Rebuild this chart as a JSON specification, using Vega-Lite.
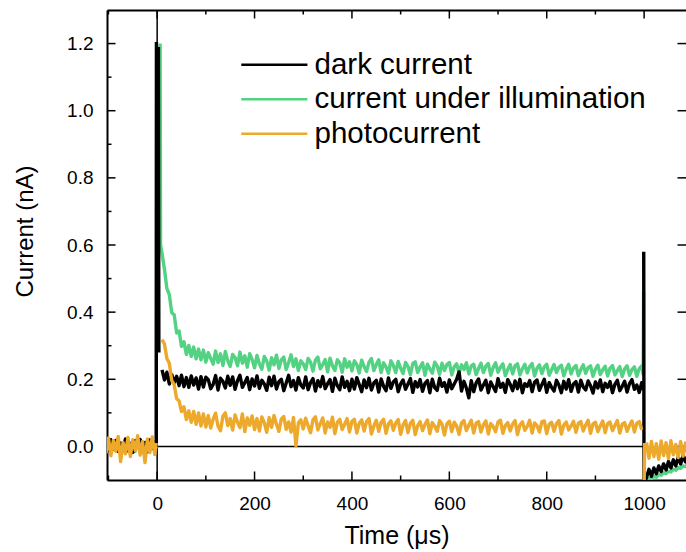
{
  "$schema": "https://vega.github.io/schema/vega-lite/v6.json",
  "width": 579,
  "height": 470,
  "autosize": {"type": "none"},
  "padding": {"left": 107, "top": 10, "right": 0, "bottom": 72},
  "config": {
    "view": {"stroke": null},
    "font": "Liberation Sans",
    "axis": {"grid": false, "domainColor": "black", "domainWidth": 2, "labelColor": "black", "titleColor": "black", "labelOverlap": false, "titleFontWeight": "normal"}
  },
  "datasets": {
    "xticks": [
      {"v": -100, "kind": "minor"}, {"v": 0, "kind": "major"}, {"v": 100, "kind": "minor"}, {"v": 200, "kind": "major"},
      {"v": 300, "kind": "minor"}, {"v": 400, "kind": "major"}, {"v": 500, "kind": "minor"}, {"v": 600, "kind": "major"},
      {"v": 700, "kind": "minor"}, {"v": 800, "kind": "major"}, {"v": 900, "kind": "minor"}, {"v": 1000, "kind": "major"}
    ],
    "yticks": [
      {"v": 0, "kind": "major"}, {"v": 0.1, "kind": "minor"}, {"v": 0.2, "kind": "major"}, {"v": 0.3, "kind": "minor"},
      {"v": 0.4, "kind": "major"}, {"v": 0.5, "kind": "minor"}, {"v": 0.6, "kind": "major"}, {"v": 0.7, "kind": "minor"},
      {"v": 0.8, "kind": "major"}, {"v": 0.9, "kind": "minor"}, {"v": 1.0, "kind": "major"}, {"v": 1.1, "kind": "minor"},
      {"v": 1.2, "kind": "major"}
    ]
  },
  "resolve": {"axis": {"x": "independent", "y": "independent"}},
  "layer": [
    {
      "data": {"name": "xticks"},
      "mark": {"type": "tick", "orient": "vertical", "thickness": 1.5, "color": "black", "opacity": 1, "clip": true},
      "encoding": {
        "x": {"field": "v", "type": "quantitative", "scale": {"domain": [-103, 1086], "nice": false, "zero": false}, "axis": null},
        "y": {"datum": -0.1, "type": "quantitative", "scale": {"domain": [-0.1, 1.3], "nice": false, "zero": false}, "axis": null},
        "size": {"field": "kind", "type": "ordinal", "scale": {"domain": ["major", "minor"], "range": [17, 9]}, "legend": null}
      }
    },
    {
      "data": {"name": "xticks"},
      "mark": {"type": "tick", "orient": "vertical", "thickness": 1.5, "color": "black", "opacity": 1, "clip": true},
      "encoding": {
        "x": {"field": "v", "type": "quantitative", "scale": {"domain": [-103, 1086], "nice": false, "zero": false}, "axis": null},
        "y": {"datum": 1.3, "type": "quantitative", "scale": {"domain": [-0.1, 1.3], "nice": false, "zero": false}, "axis": null},
        "size": {"field": "kind", "type": "ordinal", "scale": {"domain": ["major", "minor"], "range": [17, 9]}, "legend": null}
      }
    },
    {
      "data": {"name": "yticks"},
      "mark": {"type": "tick", "orient": "horizontal", "thickness": 1.5, "color": "black", "opacity": 1, "clip": true},
      "encoding": {
        "y": {"field": "v", "type": "quantitative", "scale": {"domain": [-0.1, 1.3], "nice": false, "zero": false}, "axis": null},
        "x": {"datum": -103, "type": "quantitative", "scale": {"domain": [-103, 1086], "nice": false, "zero": false}, "axis": null},
        "size": {"field": "kind", "type": "ordinal", "scale": {"domain": ["major", "minor"], "range": [17, 9]}, "legend": null}
      }
    },
    {
      "data": {"name": "yticks"},
      "transform": [{"filter": "datum.kind === 'major'"}],
      "mark": {"type": "tick", "orient": "horizontal", "thickness": 1.5, "color": "black", "opacity": 1, "clip": true},
      "encoding": {
        "y": {"field": "v", "type": "quantitative", "scale": {"domain": [-0.1, 1.3], "nice": false, "zero": false}, "axis": null},
        "x": {"datum": 1086, "type": "quantitative", "scale": {"domain": [-103, 1086], "nice": false, "zero": false}, "axis": null},
        "size": {"field": "kind", "type": "ordinal", "scale": {"domain": ["major", "minor"], "range": [8, 0]}, "legend": null}
      }
    },
    {
      "data": {"values": [{"t": 0, "lo": -0.2, "hi": 1.4}]},
      "mark": {"type": "rule", "color": "black", "strokeWidth": 1.5, "clip": true},
      "encoding": {
        "x": {"field": "t", "type": "quantitative", "scale": {"domain": [-103, 1086], "nice": false, "zero": false}, "axis": null},
        "y": {"field": "lo", "type": "quantitative", "scale": {"domain": [-0.1, 1.3], "nice": false, "zero": false}, "axis": null},
        "y2": {"field": "hi"}
      }
    },
    {
      "data": {"values": [{"t0": 0, "t1": 1000, "y": 0}]},
      "mark": {"type": "rule", "color": "black", "strokeWidth": 1.5},
      "encoding": {
        "x": {"field": "t0", "type": "quantitative", "scale": {"domain": [-103, 1086], "nice": false, "zero": false},
          "axis": {"orient": "top", "title": null, "labels": false, "ticks": false, "domain": true}},
        "x2": {"field": "t1"},
        "y": {"field": "y", "type": "quantitative", "scale": {"domain": [-0.1, 1.3], "nice": false, "zero": false}, "axis": null}
      }
    },
    {
      "data": {"values": [
        {"t":-105,"d":0.015,"g":-0.01,"p":-0.02},
        {"t":-100,"d":-0.012,"g":0.016,"p":0.025},
        {"t":-95,"d":0.02,"g":-0.014,"p":-0.028},
        {"t":-90,"d":-0.008,"g":0.012,"p":0.018},
        {"t":-85,"d":0.018,"g":-0.006,"p":-0.015},
        {"t":-80,"d":-0.015,"g":0.019,"p":0.03},
        {"t":-75,"d":0.01,"g":-0.012,"p":-0.045},
        {"t":-70,"d":-0.004,"g":0.008,"p":0.012},
        {"t":-65,"d":0.022,"g":-0.017,"p":-0.022},
        {"t":-60,"d":-0.013,"g":0.014,"p":0.027},
        {"t":-55,"d":0.009,"g":-0.005,"p":-0.03},
        {"t":-50,"d":-0.018,"g":0.011,"p":0.02},
        {"t":-45,"d":0.017,"g":-0.015,"p":-0.012},
        {"t":-40,"d":0.0,"g":0.018,"p":0.032},
        {"t":-35,"d":0.021,"g":-0.009,"p":-0.026},
        {"t":-30,"d":-0.01,"g":0.013,"p":0.015},
        {"t":-25,"d":0.012,"g":-0.018,"p":-0.048},
        {"t":-20,"d":-0.016,"g":0.01,"p":0.022},
        {"t":-15,"d":0.019,"g":-0.007,"p":-0.018},
        {"t":-10,"d":-0.006,"g":0.016,"p":0.028},
        {"t":-5,"d":0.014,"g":-0.011,"p":-0.024},
        {"t":-2,"d":0.005,"g":0.0,"p":0.01},
        {"t":-1.5,"d":1.205},
        {"t":-1,"p":-0.05},
        {"t":-0.5,"d":0.25},
        {"t":0,"g":0.01,"p":0.08},
        {"t":0.5,"d":1.2},
        {"t":1,"g":1.2,"p":0.18},
        {"t":1.5,"d":0.3},
        {"t":2,"p":0.33},
        {"t":2.5,"d":1.19},
        {"t":3.5,"d":0.28},
        {"t":4,"p":0.352},
        {"t":4.5,"d":1.17},
        {"t":5,"p":0.345},
        {"t":5.5,"d":0.222},
        {"t":6,"g":1.2},
        {"t":7,"g":0.6},
        {"t":10,"d":0.228,"g":0.575,"p":0.318},
        {"t":15,"d":0.198,"g":0.528,"p":0.305},
        {"t":20,"d":0.221,"g":0.47,"p":0.262},
        {"t":25,"d":0.186,"g":0.452,"p":0.248},
        {"t":30,"d":0.214,"g":0.398,"p":0.196},
        {"t":35,"d":0.19,"g":0.392,"p":0.184},
        {"t":40,"d":0.209,"g":0.338,"p":0.142},
        {"t":45,"d":0.181,"g":0.344,"p":0.136},
        {"t":50,"d":0.212,"g":0.298,"p":0.104},
        {"t":55,"d":0.178,"g":0.312,"p":0.118},
        {"t":60,"d":0.205,"g":0.274,"p":0.08},
        {"t":65,"d":0.176,"g":0.301,"p":0.106},
        {"t":70,"d":0.21,"g":0.268,"p":0.072},
        {"t":75,"d":0.183,"g":0.296,"p":0.104},
        {"t":80,"d":0.204,"g":0.261,"p":0.066},
        {"t":85,"d":0.171,"g":0.29,"p":0.1},
        {"t":90,"d":0.208,"g":0.258,"p":0.061},
        {"t":95,"d":0.177,"g":0.287,"p":0.097},
        {"t":100,"d":0.206,"g":0.251,"p":0.058},
        {"t":105,"d":0.199,"g":0.279,"p":0.092},
        {"t":110,"d":0.172,"g":0.262,"p":0.055},
        {"t":115,"d":0.185,"g":0.245,"p":0.081},
        {"t":120,"d":0.211,"g":0.284,"p":0.099},
        {"t":125,"d":0.168,"g":0.25,"p":0.06},
        {"t":130,"d":0.203,"g":0.276,"p":0.047},
        {"t":135,"d":0.194,"g":0.241,"p":0.09},
        {"t":140,"d":0.174,"g":0.283,"p":0.1},
        {"t":145,"d":0.209,"g":0.255,"p":0.062},
        {"t":150,"d":0.182,"g":0.238,"p":0.083},
        {"t":155,"d":0.207,"g":0.274,"p":0.049},
        {"t":160,"d":0.17,"g":0.265,"p":0.094},
        {"t":165,"d":0.196,"g":0.24,"p":0.072},
        {"t":170,"d":0.212,"g":0.281,"p":0.056},
        {"t":175,"d":0.176,"g":0.248,"p":0.097},
        {"t":180,"d":0.19,"g":0.27,"p":0.044},
        {"t":185,"d":0.205,"g":0.236,"p":0.085},
        {"t":190,"d":0.169,"g":0.276,"p":0.063},
        {"t":195,"d":0.201,"g":0.259,"p":0.091},
        {"t":200,"d":0.18,"g":0.234,"p":0.05},
        {"t":205,"d":0.21,"g":0.271,"p":0.083},
        {"t":210,"d":0.173,"g":0.246,"p":0.046},
        {"t":215,"d":0.197,"g":0.23,"p":0.088},
        {"t":220,"d":0.186,"g":0.268,"p":0.071},
        {"t":225,"d":0.167,"g":0.255,"p":0.042},
        {"t":230,"d":0.206,"g":0.227,"p":0.086},
        {"t":235,"d":0.181,"g":0.264,"p":0.057},
        {"t":240,"d":0.209,"g":0.243,"p":0.092},
        {"t":245,"d":0.171,"g":0.272,"p":0.066},
        {"t":250,"d":0.193,"g":0.232,"p":0.045},
        {"t":255,"d":0.2,"g":0.258,"p":0.082},
        {"t":260,"d":0.166,"g":0.266,"p":0.089},
        {"t":265,"d":0.189,"g":0.229,"p":0.051},
        {"t":270,"d":0.212,"g":0.25,"p":0.073},
        {"t":275,"d":0.178,"g":0.273,"p":0.043},
        {"t":280,"d":0.196,"g":0.238,"p":0.086},
        {"t":285,"d":0.168,"g":0.261,"p":0.002},
        {"t":290,"d":0.205,"g":0.226,"p":0.07},
        {"t":295,"d":0.183,"g":0.255,"p":0.079},
        {"t":300,"d":0.174,"g":0.246,"p":0.052},
        {"t":305,"d":0.207,"g":0.229,"p":0.084},
        {"t":310,"d":0.169,"g":0.262,"p":0.061},
        {"t":315,"d":0.19,"g":0.251,"p":0.041},
        {"t":320,"d":0.202,"g":0.224,"p":0.079},
        {"t":325,"d":0.165,"g":0.257,"p":0.088},
        {"t":330,"d":0.196,"g":0.266,"p":0.049},
        {"t":335,"d":0.178,"g":0.231,"p":0.068},
        {"t":340,"d":0.208,"g":0.244,"p":0.085},
        {"t":345,"d":0.172,"g":0.259,"p":0.04},
        {"t":350,"d":0.187,"g":0.222,"p":0.073},
        {"t":355,"d":0.199,"g":0.263,"p":0.057},
        {"t":360,"d":0.164,"g":0.24,"p":0.087},
        {"t":365,"d":0.203,"g":0.226,"p":0.038},
        {"t":370,"d":0.181,"g":0.258,"p":0.072},
        {"t":375,"d":0.169,"g":0.249,"p":0.081},
        {"t":380,"d":0.207,"g":0.221,"p":0.05},
        {"t":385,"d":0.176,"g":0.261,"p":0.066},
        {"t":390,"d":0.194,"g":0.236,"p":0.083},
        {"t":395,"d":0.166,"g":0.252,"p":0.043},
        {"t":400,"d":0.2,"g":0.225,"p":0.075},
        {"t":405,"d":0.171,"g":0.255,"p":0.081},
        {"t":410,"d":0.205,"g":0.244,"p":0.04},
        {"t":415,"d":0.184,"g":0.219,"p":0.069},
        {"t":420,"d":0.163,"g":0.257,"p":0.079},
        {"t":425,"d":0.198,"g":0.238,"p":0.046},
        {"t":430,"d":0.175,"g":0.223,"p":0.074},
        {"t":435,"d":0.203,"g":0.251,"p":0.083},
        {"t":440,"d":0.168,"g":0.262,"p":0.037},
        {"t":445,"d":0.189,"g":0.226,"p":0.061},
        {"t":450,"d":0.197,"g":0.244,"p":0.078},
        {"t":455,"d":0.162,"g":0.258,"p":0.045},
        {"t":460,"d":0.201,"g":0.22,"p":0.072},
        {"t":465,"d":0.179,"g":0.249,"p":0.081},
        {"t":470,"d":0.166,"g":0.236,"p":0.039},
        {"t":475,"d":0.204,"g":0.218,"p":0.067},
        {"t":480,"d":0.173,"g":0.255,"p":0.076},
        {"t":485,"d":0.192,"g":0.241,"p":0.048},
        {"t":490,"d":0.2,"g":0.22,"p":0.07},
        {"t":495,"d":0.163,"g":0.253,"p":0.08},
        {"t":500,"d":0.186,"g":0.233,"p":0.036},
        {"t":505,"d":0.198,"g":0.217,"p":0.064},
        {"t":510,"d":0.17,"g":0.25,"p":0.077},
        {"t":515,"d":0.186,"g":0.238,"p":0.041},
        {"t":520,"d":0.202,"g":0.214,"p":0.069},
        {"t":525,"d":0.161,"g":0.247,"p":0.078},
        {"t":530,"d":0.193,"g":0.252,"p":0.035},
        {"t":535,"d":0.177,"g":0.22,"p":0.062},
        {"t":540,"d":0.199,"g":0.236,"p":0.074},
        {"t":545,"d":0.164,"g":0.249,"p":0.047},
        {"t":550,"d":0.188,"g":0.212,"p":0.066},
        {"t":555,"d":0.196,"g":0.245,"p":0.079},
        {"t":560,"d":0.16,"g":0.231,"p":0.038},
        {"t":565,"d":0.2,"g":0.218,"p":0.071},
        {"t":570,"d":0.175,"g":0.251,"p":0.06},
        {"t":575,"d":0.167,"g":0.24,"p":0.045},
        {"t":580,"d":0.203,"g":0.215,"p":0.077},
        {"t":585,"d":0.179,"g":0.248,"p":0.066},
        {"t":590,"d":0.19,"g":0.226,"p":0.034},
        {"t":595,"d":0.162,"g":0.244,"p":0.068},
        {"t":600,"d":0.198,"g":0.25,"p":0.075},
        {"t":605,"d":0.172,"g":0.213,"p":0.044},
        {"t":610,"d":0.186,"g":0.237,"p":0.072},
        {"t":615,"d":0.2,"g":0.246,"p":0.061},
        {"t":620,"d":0.222,"g":0.219,"p":0.036},
        {"t":625,"d":0.165,"g":0.243,"p":0.07},
        {"t":630,"d":0.194,"g":0.229,"p":0.077},
        {"t":635,"d":0.174,"g":0.249,"p":0.047},
        {"t":640,"d":0.145,"g":0.216,"p":0.063},
        {"t":645,"d":0.196,"g":0.24,"p":0.078},
        {"t":650,"d":0.163,"g":0.245,"p":0.04},
        {"t":655,"d":0.189,"g":0.214,"p":0.069},
        {"t":660,"d":0.201,"g":0.232,"p":0.074},
        {"t":665,"d":0.168,"g":0.248,"p":0.043},
        {"t":670,"d":0.183,"g":0.22,"p":0.065},
        {"t":675,"d":0.197,"g":0.239,"p":0.076},
        {"t":680,"d":0.16,"g":0.247,"p":0.037},
        {"t":685,"d":0.192,"g":0.212,"p":0.068},
        {"t":690,"d":0.178,"g":0.235,"p":0.059},
        {"t":695,"d":0.164,"g":0.249,"p":0.044},
        {"t":700,"d":0.202,"g":0.221,"p":0.073},
        {"t":705,"d":0.176,"g":0.236,"p":0.078},
        {"t":710,"d":0.188,"g":0.246,"p":0.039},
        {"t":715,"d":0.161,"g":0.211,"p":0.062},
        {"t":720,"d":0.199,"g":0.229,"p":0.071},
        {"t":725,"d":0.185,"g":0.244,"p":0.046},
        {"t":730,"d":0.166,"g":0.216,"p":0.067},
        {"t":735,"d":0.195,"g":0.24,"p":0.077},
        {"t":740,"d":0.172,"g":0.246,"p":0.035},
        {"t":745,"d":0.2,"g":0.213,"p":0.064},
        {"t":750,"d":0.16,"g":0.231,"p":0.073},
        {"t":755,"d":0.187,"g":0.245,"p":0.048},
        {"t":760,"d":0.179,"g":0.219,"p":0.06},
        {"t":765,"d":0.196,"g":0.238,"p":0.078},
        {"t":770,"d":0.163,"g":0.247,"p":0.04},
        {"t":775,"d":0.191,"g":0.21,"p":0.07},
        {"t":780,"d":0.198,"g":0.233,"p":0.062},
        {"t":785,"d":0.167,"g":0.243,"p":0.043},
        {"t":790,"d":0.184,"g":0.217,"p":0.074},
        {"t":795,"d":0.2,"g":0.237,"p":0.076},
        {"t":800,"d":0.161,"g":0.245,"p":0.038},
        {"t":805,"d":0.19,"g":0.212,"p":0.066},
        {"t":810,"d":0.176,"g":0.228,"p":0.072},
        {"t":815,"d":0.165,"g":0.244,"p":0.045},
        {"t":820,"d":0.197,"g":0.22,"p":0.068},
        {"t":825,"d":0.183,"g":0.236,"p":0.077},
        {"t":830,"d":0.16,"g":0.242,"p":0.037},
        {"t":835,"d":0.194,"g":0.21,"p":0.063},
        {"t":840,"d":0.171,"g":0.23,"p":0.073},
        {"t":845,"d":0.199,"g":0.245,"p":0.049},
        {"t":850,"d":0.164,"g":0.216,"p":0.061},
        {"t":855,"d":0.186,"g":0.234,"p":0.075},
        {"t":860,"d":0.193,"g":0.241,"p":0.042},
        {"t":865,"d":0.162,"g":0.211,"p":0.069},
        {"t":870,"d":0.197,"g":0.229,"p":0.074},
        {"t":875,"d":0.177,"g":0.243,"p":0.046},
        {"t":880,"d":0.168,"g":0.218,"p":0.064},
        {"t":885,"d":0.195,"g":0.235,"p":0.078},
        {"t":890,"d":0.181,"g":0.24,"p":0.039},
        {"t":895,"d":0.159,"g":0.209,"p":0.067},
        {"t":900,"d":0.192,"g":0.23,"p":0.072},
        {"t":905,"d":0.174,"g":0.242,"p":0.044},
        {"t":910,"d":0.198,"g":0.214,"p":0.061},
        {"t":915,"d":0.163,"g":0.228,"p":0.076},
        {"t":920,"d":0.188,"g":0.239,"p":0.041},
        {"t":925,"d":0.176,"g":0.21,"p":0.068},
        {"t":930,"d":0.193,"g":0.233,"p":0.073},
        {"t":935,"d":0.16,"g":0.241,"p":0.047},
        {"t":940,"d":0.185,"g":0.213,"p":0.062},
        {"t":945,"d":0.197,"g":0.226,"p":0.077},
        {"t":950,"d":0.166,"g":0.238,"p":0.04},
        {"t":955,"d":0.179,"g":0.208,"p":0.066},
        {"t":960,"d":0.194,"g":0.231,"p":0.071},
        {"t":965,"d":0.162,"g":0.24,"p":0.045},
        {"t":970,"d":0.187,"g":0.212,"p":0.063},
        {"t":975,"d":0.199,"g":0.229,"p":0.076},
        {"t":980,"d":0.17,"g":0.237,"p":0.043},
        {"t":985,"d":0.183,"g":0.209,"p":0.069},
        {"t":990,"d":0.161,"g":0.232,"p":0.074},
        {"t":995,"d":0.19,"g":0.24,"p":0.05},
        {"t":998,"d":0.168,"g":0.215},
        {"t":999,"g":0.46,"p":0.06},
        {"t":999.2,"d":0.58},
        {"t":999.8,"d":-0.13},
        {"t":1000,"g":0.08,"p":-0.12},
        {"t":1001,"p":0.01},
        {"t":1003,"d":-0.1,"g":-0.13},
        {"t":1005,"d":-0.092,"g":-0.1,"p":0.012},
        {"t":1010,"d":-0.068,"g":-0.094,"p":-0.035},
        {"t":1015,"d":-0.089,"g":-0.097,"p":0.015},
        {"t":1020,"d":-0.064,"g":-0.088,"p":-0.03},
        {"t":1025,"d":-0.081,"g":-0.092,"p":0.008},
        {"t":1030,"d":-0.058,"g":-0.083,"p":-0.038},
        {"t":1035,"d":-0.075,"g":-0.086,"p":0.016},
        {"t":1040,"d":-0.052,"g":-0.078,"p":-0.027},
        {"t":1045,"d":-0.07,"g":-0.081,"p":0.011},
        {"t":1050,"d":-0.045,"g":-0.074,"p":-0.036},
        {"t":1055,"d":-0.064,"g":-0.076,"p":0.017},
        {"t":1060,"d":-0.04,"g":-0.068,"p":-0.025},
        {"t":1065,"d":-0.058,"g":-0.071,"p":0.006},
        {"t":1070,"d":-0.032,"g":-0.063,"p":-0.033},
        {"t":1075,"d":-0.052,"g":-0.065,"p":0.014},
        {"t":1080,"d":-0.028,"g":-0.058,"p":-0.029},
        {"t":1085,"d":-0.046,"g":-0.06,"p":0.01},
        {"t":1090,"d":-0.025,"g":-0.053,"p":-0.02}
      ]},
      "transform": [{"fold": ["g", "d", "p"], "as": ["series", "current"]}],
      "mark": {"type": "line", "strokeWidth": 3.4, "strokeJoin": "round", "clip": true},
      "encoding": {
        "x": {"field": "t", "type": "quantitative", "scale": {"domain": [-103, 1086], "nice": false, "zero": false},
          "axis": {"orient": "bottom", "title": "Time (μs)", "format": "d", "values": [0, 200, 400, 600, 800, 1000],
            "ticks": false, "tickSize": 0, "domain": true,
            "labelFontSize": 19, "labelPadding": 14, "titleFontSize": 25, "titlePadding": 10}},
        "y": {"field": "current", "type": "quantitative", "scale": {"domain": [-0.1, 1.3], "nice": false, "zero": false},
          "axis": {"orient": "left", "title": "Current (nA)", "format": ".1f", "values": [0, 0.2, 0.4, 0.6, 0.8, 1.0, 1.2],
            "ticks": false, "tickSize": 0, "domain": true,
            "labelFontSize": 19, "labelPadding": 14, "titleFontSize": 24, "titlePadding": 29, "titleY": 221}},
        "color": {"field": "series", "type": "nominal",
          "scale": {"domain": ["d", "g", "p"], "range": ["#000000", "#52d282", "#eda92b"]},
          "legend": {"orient": "none", "legendX": 152.6, "legendY": 40, "title": null,
            "labelExpr": "datum.label === 'd' ? 'dark current' : datum.label === 'g' ? 'current under illumination' : 'photocurrent'",
            "symbolType": "M-3.15,0H3.15", "symbolSize": 441, "symbolStrokeWidth": 2.5, "labelFontSize": 29.5, "labelLimit": 0,
            "labelColor": "black", "labelOffset": 25.4, "rowPadding": 3.5}}
      }
    }
  ]
}
